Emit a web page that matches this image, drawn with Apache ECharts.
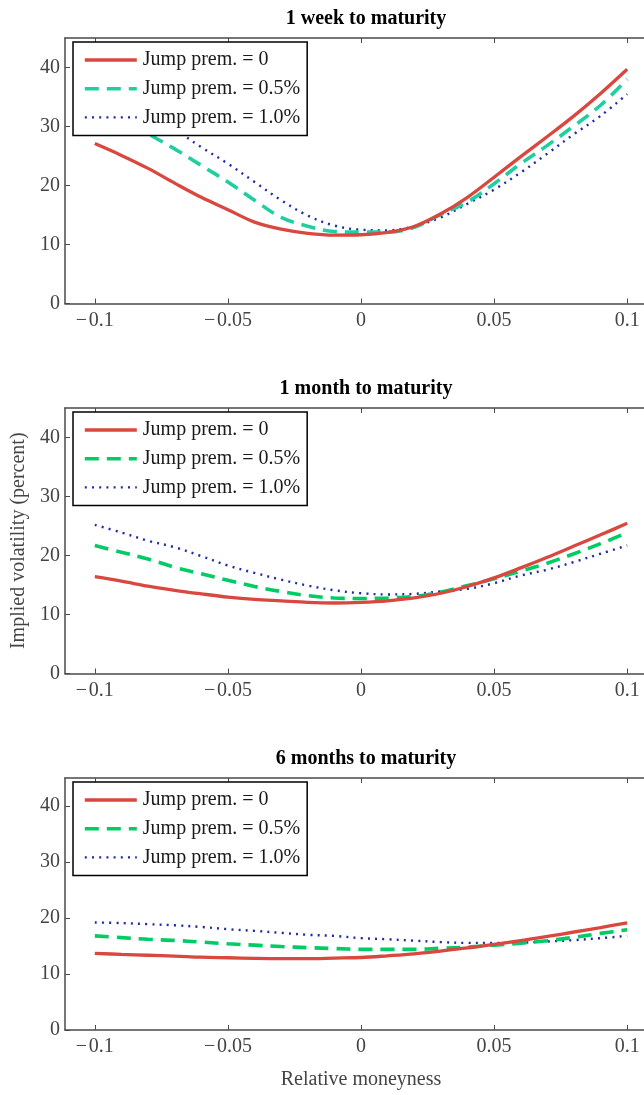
<!DOCTYPE html>
<html>
<head>
<meta charset="utf-8">
<script src="https://cdn.jsdelivr.net/npm/echarts@6/dist/echarts.min.js"></script>
<style>
  html, body { margin: 0; padding: 0; background: #fff; overflow: hidden; }
  .panel { width: 662px; }
</style>
</head>
<body>
<div id="p1" class="panel" style="height:370px"></div>
<div id="p2" class="panel" style="height:370px"></div>
<div id="p3" class="panel" style="height:355px"></div>
<script>
// Relative moneyness grid shared by all panels
const moneyness = [-0.10, -0.09, -0.08, -0.07, -0.06, -0.05, -0.04, -0.03, -0.02, -0.01,
                   0.00, 0.01, 0.02, 0.03, 0.04, 0.05, 0.06, 0.07, 0.08, 0.09, 0.10];
const xTicks = [-0.1, -0.05, 0, 0.05, 0.1];
const yTicks = [0, 10, 20, 30, 40];

const seriesNames = ['Jump prem. = 0', 'Jump prem. = 0.5%', 'Jump prem. = 1.0%'];
const panelTitles = ['1 week to maturity', '1 month to maturity', '6 months to maturity'];

// Implied volatility (percent), 1 week to maturity
const week1Prem0  = [27.1, 25.1, 22.9, 20.4, 18.0, 15.9, 13.8, 12.6, 11.9, 11.6, 11.65, 12.05, 13.06, 15.2, 18.0, 21.4, 24.9, 28.3, 31.8, 35.6, 39.7];
const week1Prem05 = [34.5, 31.6, 28.8, 26.2, 23.4, 20.6, 17.5, 14.6, 13.1, 12.2, 12.1, 12.1, 12.9, 15.1, 17.2, 20.3, 23.7, 26.8, 30.1, 33.6, 38.0];
const week1Prem10 = [37.6, 35.0, 32.3, 29.5, 26.5, 23.7, 20.6, 17.5, 14.9, 13.2, 12.5, 12.4, 13.1, 14.6, 16.9, 19.3, 22.2, 25.4, 28.7, 31.8, 35.5];

// Implied volatility (percent), 1 month to maturity
const month1Prem0  = [16.4, 15.65, 14.8, 14.1, 13.5, 12.95, 12.55, 12.3, 12.05, 11.95, 12.05, 12.3, 12.8, 13.6, 14.75, 16.2, 17.9, 19.7, 21.6, 23.5, 25.45];
const month1Prem05 = [21.7, 20.55, 19.4, 18.0, 16.9, 15.8, 14.75, 13.9, 13.2, 12.8, 12.7, 12.8, 13.05, 13.8, 14.9, 16.05, 17.35, 18.7, 20.3, 22.0, 23.9];
const month1Prem10 = [25.2, 23.9, 22.5, 21.4, 19.9, 18.3, 17.05, 15.9, 14.9, 14.1, 13.6, 13.4, 13.5, 13.9, 14.35, 15.3, 16.6, 17.6, 18.9, 20.3, 21.7];

// Implied volatility (percent), 6 months to maturity
const month6Prem0  = [13.7, 13.5, 13.35, 13.2, 13.0, 12.9, 12.8, 12.75, 12.75, 12.85, 12.95, 13.25, 13.6, 14.1, 14.65, 15.3, 15.95, 16.7, 17.5, 18.3, 19.15];
const month6Prem05 = [16.8, 16.5, 16.2, 16.0, 15.7, 15.4, 15.15, 14.9, 14.7, 14.55, 14.4, 14.4, 14.4, 14.6, 14.8, 15.15, 15.5, 15.95, 16.55, 17.25, 17.9];
const month6Prem10 = [19.2, 19.1, 18.9, 18.7, 18.4, 18.0, 17.7, 17.35, 17.0, 16.8, 16.4, 16.2, 15.95, 15.7, 15.55, 15.55, 15.6, 15.8, 16.05, 16.4, 16.8];

const SERIF = '"Liberation Serif", "DejaVu Serif", serif';
const RED = '#d9473e';
const BLUE = '#1f2aa8';

function pairs(ys) {
  return moneyness.map((x, i) => [x, ys[i]]);
}

function fmtTick(v) {
  if (v === 0) return '0';
  const s = String(Math.abs(v));
  return v < 0 ? '\u2212\u200A' + s : s;
}

function buildOption(title, curves, greenColor, opts) {
  const axisLine = { show: true, onZero: false, lineStyle: { color: '#4a4a4a', width: 1.5 } };
  const tick = { show: true, inside: true, length: 5, lineStyle: { color: '#4a4a4a', width: 1 } };
  const styles = [
    { color: RED, width: 3.3, type: 'solid' },
    { color: greenColor, width: 3.6, type: [14, 8], cap: 'butt' },
    { color: BLUE, width: 2.4, type: [2, 5.2], cap: 'butt' }
  ];
  return {
    animation: false,
    backgroundColor: '#fff',
    title: {
      text: title,
      left: 361, top: 4,
      textAlign: 'center',
      textStyle: { fontFamily: SERIF, fontWeight: 'bold', fontSize: 20, color: '#000' }
    },
    legend: {
      orient: 'vertical',
      left: 73, top: 42,
      padding: [8, 7, 8, 10],
      itemGap: 8.7,
      itemWidth: 52, itemHeight: 20,
      backgroundColor: '#fff',
      borderColor: '#000', borderWidth: 1.5, borderRadius: 0,
      selectedMode: false,
      data: seriesNames,
      itemStyle: { opacity: 0 },
      lineStyle: { width: 'inherit' },
      textStyle: { fontFamily: SERIF, fontSize: 20, color: '#1a1a1a', lineHeight: 20, padding: [0, 0, 0, 1] }
    },
    grid: { left: 65, top: 38, width: 592, height: 265.5, containLabel: false },
    xAxis: [
      {
        type: 'value', position: 'bottom',
        min: -0.1112, max: 0.1112,
        name: opts.xName || '', nameLocation: 'middle', nameGap: 40,
        nameTextStyle: { fontFamily: SERIF, fontSize: 20, color: '#444' },
        axisLine: axisLine,
        axisTick: Object.assign({ customValues: xTicks }, tick),
        axisLabel: { customValues: xTicks, formatter: fmtTick, margin: 7,
          fontFamily: SERIF, fontSize: 20, color: '#444' },
        splitLine: { show: false }
      },
      {
        type: 'value', position: 'top',
        min: -0.1112, max: 0.1112,
        axisLine: axisLine,
        axisTick: Object.assign({ customValues: xTicks }, tick),
        axisLabel: { show: false },
        splitLine: { show: false }
      }
    ],
    yAxis: [
      {
        type: 'value', position: 'left',
        min: 0, max: 45,
        name: opts.yName || '', nameLocation: 'middle', nameGap: 34, nameRotate: 90,
        nameTextStyle: { fontFamily: SERIF, fontSize: 20, color: '#444' },
        axisLine: axisLine,
        axisTick: Object.assign({ customValues: yTicks }, tick),
        axisLabel: { customValues: yTicks, margin: 5,
          fontFamily: SERIF, fontSize: 20, color: '#444' },
        splitLine: { show: false }
      },
      {
        type: 'value', position: 'right',
        min: 0, max: 45,
        axisLine: axisLine,
        axisTick: Object.assign({ customValues: yTicks }, tick),
        axisLabel: { show: false },
        splitLine: { show: false }
      }
    ],
    series: curves.map((ys, i) => ({
      name: seriesNames[i],
      type: 'line',
      data: pairs(ys),
      showSymbol: false,
      symbol: 'none',
      smooth: 0.35,
      z: 3 - i,
      lineStyle: styles[i],
      itemStyle: { color: styles[i].color }
    }))
  };
}

const panels = [
  { id: 'p1', title: panelTitles[0], curves: [week1Prem0, week1Prem05, week1Prem10], green: '#1fcfa0', opts: {} },
  { id: 'p2', title: panelTitles[1], curves: [month1Prem0, month1Prem05, month1Prem10], green: '#00cc66', opts: { yName: 'Implied volatility (percent)' } },
  { id: 'p3', title: panelTitles[2], curves: [month6Prem0, month6Prem05, month6Prem10], green: '#00cc66', opts: { xName: 'Relative moneyness' } }
];

panels.forEach(p => {
  const chart = echarts.init(document.getElementById(p.id), null, { renderer: 'canvas' });
  chart.setOption(buildOption(p.title, p.curves, p.green, p.opts));
});
</script>
</body>
</html>
